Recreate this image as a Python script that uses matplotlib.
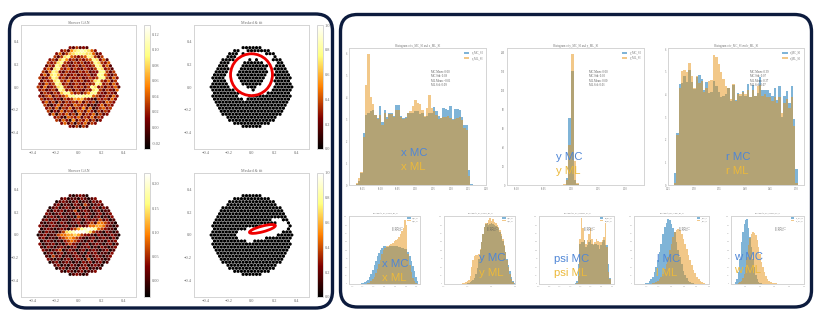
import numpy as np
import matplotlib
matplotlib.use('Agg')
import matplotlib.pyplot as plt
from matplotlib.patches import Ellipse, FancyBboxPatch

W, H = 822, 329
plt.rcParams['font.family'] = ['Liberation Serif', 'DejaVu Serif']

# camera images, row by row from top, one digit per pixel
shower_a = ["213121", "23157 89874 2", "24136 78887 7412", "31378 43234 87313",
    "23168 52313 23487 241", "32378 32132 31238 7324", "13287 23123 13223 87241",
    "24178 32413 21321 38723 1", "31487 21322 13231 22883 13", "24178 62312 31223 12884 213",
    "31248 72313 22312 32388 3142", "13237 83241 32312 37832 413", "21423 87231 23213 23872 3142",
    "31412 37832 13231 38723 13241", "23123 18723 13213 27831 3214", "13213 26884 23135 88321 321",
    "21341 32358 89988 84312 3142", "31231 20323 65632 10323 142", "24130 31323 24132 30214 32",
    "31024 13214 32301 02413 2", "23140 32413 25140 13423", "30214 13204 31420 3132",
    "14032 41304 13240 312", "23104 32413 24132", "31420 51324 1302", "24130 32413 2", "213031"]
shower_b = ["101210", "12011 02101 2", "01210 12011 0212", "12011 02103 10121",
    "01201 21012 01021 021", "10212 01130 12101 2011", "21012 01102 10210 12012",
    "01210 21010 31210 12010 2", "12012 01101 21021 21312 01", "10121 02101 12012 31443 210",
    "21012 10120 10212 44554 2101", "01210 12102 35789 87432 110", "10211 01367 89998 63210 2101",
    "01201 13445 56532 21021 01210", "12011 02345 43210 12012 1020", "01210 10234 32101 20110 212",
    "20112 01023 21012 01210 1201", "10210 12101 20112 01021 012", "21012 30121 01201 21012 01",
    "01201 20112 01021 20110 2", "10312 01012 10201 21012", "21010 12012 10301 2101",
    "01201 21010 21201 201", "12010 21012 01210", "01201 10212 0101", "10210 12011 2", "012101"]
mask_a = ["000000", "00110 00000 0", "00010 11111 1000", "00011 11111 11110",
    "00001 11101 01111 000", "00011 11000 00011 1100", "00011 11000 00000 11000",
    "00001 11000 00000 11000 0", "00001 11000 00000 01100 00", "00001 11000 00000 01100 000",
    "00001 11100 00000 01110 0000", "00001 11100 00000 11100 000", "00000 11110 00000 11110 0000",
    "00000 01111 10001 11110 00000", "00000 00111 11011 11100 0000", "00000 00011 11111 10000 000",
    "00000 00011 10000 00000 0000", "00000 00001 00000 00000 000", "00000 00000 00000 00000 00",
    "00000 00000 00000 00000 0", "00000 00000 00000 00000", "00000 00000 00000 0000",
    "00000 00000 00000 000", "00000 00000 00000", "00000 00000 0000", "00000 00000 0", "000000"]
mask_b = ["000000", "00000 00000 0", "00000 00000 0000", "00000 00000 00000",
    "00000 00000 00000 000", "00000 00000 00000 0000", "00000 00000 00000 00000",
    "00000 00000 00000 00000 0", "00000 00000 00000 00111 00", "00000 00000 00000 00001 110",
    "00000 00000 00000 11111 1110", "00000 00000 11111 11111 110", "00000 00011 11111 11111 1000",
    "00000 00011 11111 11111 00000", "00000 00011 11111 10000 0000", "00000 00000 11000 00000 000",
    "00000 00000 00000 00000 0000", "00000 00000 00000 00000 000", "00000 00000 00000 00000 00",
    "00000 00000 00000 00000 0", "00000 00000 00000 00000", "00000 00000 00000 0000",
    "00000 00000 00000 000", "00000 00000 00000", "00000 00000 0000", "00000 00000 0", "000000"]

# big histograms
x_range = (-0.171, 0.162)
x_mc = [.05,.2,.55,2.35,3.2,3.3,3.35,3.4,3.2,3.05,3.6,2.85,3.4,3.1,3.3,3.3,3.15,3.65,3.65,3.15,3.05,3.1,3.3,3.3,3.3,
        3.35,3.35,3.25,3.3,3.1,3.15,3.3,3.3,3.55,3.35,3.15,3.05,3.5,3.45,3.4,3.6,3.0,3.45,3.45,3.4,3.1,2.75,2.75,.7,.05]
x_ml = [.1,.3,.6,2.2,4.55,5.95,4.0,3.7,3.2,3.0,3.2,2.75,3.3,3.0,3.25,3.25,3.1,3.4,3.4,3.1,3.0,3.05,3.3,3.35,3.6,
        3.85,3.75,3.7,3.4,3.15,3.5,4.1,3.5,3.35,3.2,3.0,3.05,3.1,3.1,3.15,3.05,2.95,3.0,3.05,3.1,2.95,2.6,2.5,.4,.02]
y_range = (-0.015, 0.015)
y_mc = [0, 7, 71, 121, 5, 1]
y_ml = [1, 5, 42, 139, 25, 2]
r_range = (0.26, 0.504)
r_mc = [.55,2.3,4.45,4.5,4.8,4.55,5.1,4.55,4.25,4.75,4.85,4.7,4.2,4.55,4.05,4.1,4.6,4.35,4.1,3.9,3.95,4.0,4.3,3.7,4.4,3.75,
        4.05,3.95,4.15,3.95,4.45,3.9,4.4,3.95,4.05,4.75,4.2,4.2,4.2,4.05,3.95,4.3,3.75,4.35,3.0,3.95,4.15,3.6,4.35,2.9,.7]
r_ml = [.1,2.2,4.3,5.05,5.1,5.0,5.4,4.8,4.3,4.8,4.5,4.6,4.1,4.3,4.6,4.65,5.75,5.65,5.35,5.0,4.7,4.35,4.3,3.8,4.45,3.7,
        4.0,4.0,4.1,4.0,4.2,3.9,4.2,3.95,4.35,4.4,3.95,4.0,3.9,3.9,3.7,3.9,3.6,3.9,3.2,3.6,3.8,3.4,3.9,2.6,.1]

# small histograms
sx_mc = [0,0,1,2,3,5,8,12,20,30,42,55,68,82,92,100,108,112,112,110,110,112,113,112,112,112,112,110,110,108,108,105,103,95,82,68,52,38,22,8]
sx_ml = [0,0,0,0,0,0,1,2,4,8,14,22,32,45,58,72,88,100,108,112,113,116,118,122,128,130,134,140,150,158,165,190,175,90,55,35,18,8,2,0]
sy_mc = [0,0,0,0,0,1,2,3,5,8,12,18,30,48,75,100,125,150,170,178,180,176,178,180,178,176,172,170,165,155,142,128,112,95,75,55,38,22,10,2]
sy_ml = [0,0,1,2,3,5,8,12,25,50,70,82,85,85,90,105,125,150,170,180,182,190,195,188,192,185,180,175,170,160,150,135,115,95,72,50,30,15,6,1]
spsi_mc = [3,10,60,120,125,125,130,110,115,125,130,120,115,118,120,115,105,115,125,130,115,115,60,18]
spsi_ml = [0,2,25,135,196,165,130,120,130,150,165,135,120,125,135,128,125,125,130,140,180,110,35,15]
sl_mc = [0,0,1,2,4,8,14,22,35,50,70,95,120,150,170,182,192,190,178,165,155,125,100,80,60,40,28,18,10,6,3,2,1,0,0,0,0,0,0,0]
sl_ml = [0,0,0,0,0,0,1,2,4,6,10,15,20,30,45,60,80,100,120,140,155,160,162,160,150,135,120,105,85,70,55,42,32,22,15,10,6,3,1,0]
sw_mc = [0,1,5,15,35,75,125,155,178,190,194,165,140,110,75,50,28,14,7,3,2,1,1,0,0,0,0,0,0,0,0,0,0,0,0,0,0,0,0,0]
sw_ml = [0,0,0,1,3,6,10,18,30,50,80,115,138,150,155,152,145,130,110,88,66,50,35,24,15,10,7,5,3,2,2,1,1,1,0,0,0,0,0,0]

big_stats = [["MC Mean: 0.00", "MC Std: 0.09", "ML Mean: -0.01", "ML Std: 0.09"],
             ["MC Mean: 0.00", "MC Std: 0.00", "ML Mean: 0.00", "ML Std: 0.01"],
             ["MC Mean: 0.39", "MC Std: 0.07", "ML Mean: 0.37", "ML Std: 0.07"]]

BLUE = '#006bb1'
ORANGE = '#e79315'
NAVY = '#0c1b3d'
TXT_MC = '#4f86d6'
TXT_ML = '#ecb93a'
GREY = '#d4d4d4'
TICK = '#707070'

fig = plt.figure(figsize=(W / 100, H / 100), dpi=100, facecolor='white')


def ax_px(left, top, right, bottom):
    return fig.add_axes([left / W, 1 - bottom / H, (right - left) / W, (bottom - top) / H])


def clean(ax, size):
    for s in ax.spines.values():
        s.set_color(GREY)
        s.set_linewidth(0.7)
    ax.tick_params(labelsize=size, length=0, pad=1.5, colors=TICK)


def camera(rows, box, cbox, vmin, vmax, ticks, step, offset, title):
    ax = ax_px(*box)
    xs, ys, vals = [], [], []
    for k, row in enumerate(rows):
        row = row.replace(' ', '')
        for i, d in enumerate(row):
            xs.append((i - (len(row) - 1) / 2) * 0.0295)
            ys.append((13 - k) * 0.0266)
            vals.append(offset + int(d) * step)
    sc = ax.scatter(xs, ys, c=vals, s=6.5, marker='h', cmap='afmhot', vmin=vmin, vmax=vmax, linewidths=0)
    ax.set_xlim(-0.505, 0.505)
    ax.set_ylim(-0.545, 0.545)
    ax.set_xticks([-0.4, -0.2, 0.0, 0.2, 0.4])
    ax.set_yticks([-0.4, -0.2, 0.0, 0.2, 0.4])
    ax.set_title(title, fontsize=2.9, pad=1, color=TICK)
    clean(ax, 3.2)
    cax = ax_px(*cbox)
    cb = fig.colorbar(sc, cax=cax)
    cb.set_ticks(ticks)
    cb.ax.set_yticklabels(['%.2f' % t if step < 0.5 else '%.1f' % t for t in ticks])
    cb.outline.set_edgecolor(GREY)
    cb.outline.set_linewidth(0.7)
    cb.ax.tick_params(labelsize=3.2, length=0, pad=1, colors=TICK)
    return ax


ax1 = camera(shower_a, (21, 25, 136, 149), (144, 25, 150, 149), -0.0277, 0.1316,
             [-0.02, 0.0, 0.02, 0.04, 0.06, 0.08, 0.10, 0.12], 0.0135, -0.012, 'Shower GAN')
ax2 = camera(mask_a, (194, 25, 309, 149), (317, 25, 323, 149), 0, 1,
             [0, 0.2, 0.4, 0.6, 0.8, 1.0], 1, 0, 'Masked & fit')
ax2.add_patch(Ellipse((0.0, 0.108), 0.368, 0.368, fill=False, edgecolor='#ee0000', linewidth=2.0, zorder=5))
ax3 = camera(shower_b, (21, 173, 136, 297), (144, 173, 150, 297), -0.033, 0.2226,
             [0.0, 0.05, 0.10, 0.15, 0.20], 0.026, -0.018, 'Shower GAN')
ax4 = camera(mask_b, (194, 173, 309, 297), (317, 173, 323, 297), 0, 1,
             [0, 0.2, 0.4, 0.6, 0.8, 1.0], 1, 0, 'Masked & fit')
ax4.add_patch(Ellipse((0.096, 0.053), 0.235, 0.05, angle=15, fill=False, edgecolor='#ee0000', linewidth=2.0, zorder=5))


def hist_panel(box, mc, ml, rng, xlim, ylim, xticks, yticks, name, stats, fs, xfmt='%.2f'):
    ax = ax_px(*box)
    ax.stairs(mc, np.linspace(rng[0], rng[1], len(mc) + 1), fill=True, color=BLUE, alpha=0.5, label=name + '_MC_SI')
    ax.stairs(ml, np.linspace(rng[0], rng[1], len(ml) + 1), fill=True, color=ORANGE, alpha=0.5, label=name + '_ML_SI')
    ax.set_xlim(*xlim)
    ax.set_ylim(*ylim)
    ax.set_xticks(xticks)
    ax.set_xticklabels([xfmt % t for t in xticks])
    ax.set_yticks(yticks)
    ax.set_title('Histogram of %s_MC_SI and %s_ML_SI' % (name, name), fontsize=fs, pad=0.8, color=TICK)
    clean(ax, fs * 0.9)
    ax.legend(loc='upper right', fontsize=fs, frameon=False, handlelength=2, labelcolor=TICK)
    if stats:
        ax.text(0.6, 0.84, '\n'.join(stats), transform=ax.transAxes, fontsize=fs, color='#555555', va='top', linespacing=1.1)
    return ax


hist_panel((349, 48, 486, 185), x_mc, x_ml, x_range, (-0.19, 0.20), (0, 6.24),
           [-0.15, -0.10, -0.05, 0.0, 0.05, 0.10, 0.15, 0.20], range(7), 'x', big_stats[0], 2.1)
hist_panel((507, 48, 644, 185), y_mc, y_ml, y_range, (-0.117, 0.1335), (0, 145),
           [-0.10, -0.05, 0.0, 0.05, 0.10], range(0, 141, 20), 'y', big_stats[1], 2.1)
hist_panel((668, 48, 804, 185), r_mc, r_ml, r_range, (0.2487, 0.516), (0, 6.05),
           [0.25, 0.30, 0.35, 0.40, 0.45, 0.50], range(7), 'r', big_stats[2], 2.1)

hist_panel((349, 216, 420, 284), sx_mc, sx_ml, (-0.26, 0.314), (-0.33, 0.33), (0, 202),
           [-0.3, -0.2, -0.1, 0.0, 0.1, 0.2, 0.3], range(0, 201, 25), 'x', big_stats[0], 1.2)
hist_panel((444, 216, 515, 284), sy_mc, sy_ml, (-0.14, 0.1), (-0.2, 0.1), (0, 202),
           [-0.2, -0.1, 0.0, 0.1], range(0, 201, 25), 'y', big_stats[1], 1.2)
hist_panel((539, 216, 614, 284), spsi_mc, spsi_ml, (-0.256, 0.091), (-0.6, 0.12), (0, 202),
           [-0.6, -0.5, -0.4, -0.3, -0.2, -0.1, 0.0, 0.1], range(0, 201, 25), 'psi', big_stats[1], 1.2)
hist_panel((634, 216, 709, 284), sl_mc, sl_ml, (-0.252, 0.292), (-0.3, 0.3), (0, 202),
           [-0.2, -0.1, 0.0, 0.1, 0.2, 0.3], range(0, 201, 25), 'l', big_stats[1], 1.2)
hist_panel((731, 216, 804, 284), sw_mc, sw_ml, (-0.093, 0.3025), (-0.1, 0.4), (0, 202),
           [0.0, 0.1, 0.2, 0.3, 0.4], range(0, 201, 25), 'w', big_stats[1], 1.2)

# overlay in pixel coords, frames and the big coloured labels
ov = fig.add_axes([0, 0, 1, 1], zorder=10)
ov.set_xlim(0, W)
ov.set_ylim(H, 0)
ov.axis('off')
ov.patch.set_alpha(0)
ov.add_patch(FancyBboxPatch((9.5, 14), 323, 294, boxstyle='round,pad=0,rounding_size=17',
                            fill=False, edgecolor=NAVY, linewidth=2.4))
ov.add_patch(FancyBboxPatch((340.5, 14.5), 471, 292.5, boxstyle='round,pad=0,rounding_size=17',
                            fill=False, edgecolor=NAVY, linewidth=2.4))

labels = [('x MC', 414, 153, TXT_MC), ('x ML', 413, 167, TXT_ML),
          ('y MC', 569, 157, TXT_MC), ('y ML', 568, 171, TXT_ML),
          ('r MC', 738, 157, TXT_MC), ('r ML', 737, 171, TXT_ML),
          ('x MC', 395, 264, TXT_MC), ('x ML', 394, 278, TXT_ML),
          ('y MC', 492, 258, TXT_MC), ('y ML', 491, 273, TXT_ML),
          ('psi MC', 572, 259, TXT_MC), ('psi ML', 571, 273, TXT_ML),
          ('l MC', 669, 259, TXT_MC), ('l ML', 667, 273, TXT_ML),
          ('w MC', 749, 257, TXT_MC), ('w ML', 748, 270, TXT_ML)]
for txt, px, py, col in labels:
    ov.text(px, py, txt, color=col, fontsize=8.2, ha='center', va='center', family='Liberation Sans')

fig.savefig('out.png', dpi=100)
